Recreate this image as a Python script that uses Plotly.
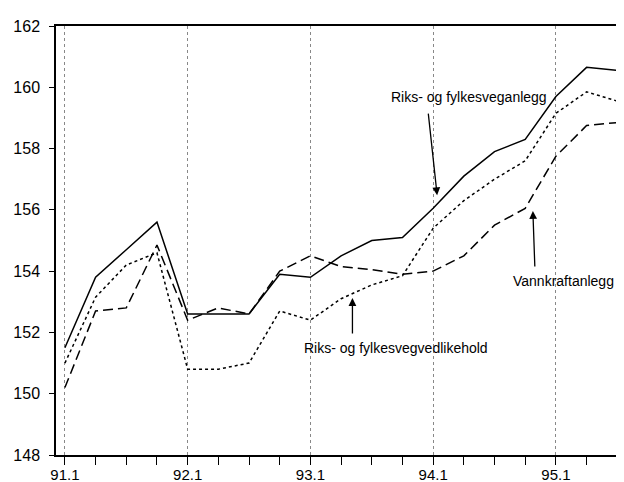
import plotly.graph_objects as go

quarters = ["91.1", "91.2", "91.3", "91.4", "92.1", "92.2", "92.3", "92.4",
            "93.1", "93.2", "93.3", "93.4", "94.1", "94.2", "94.3", "94.4",
            "95.1", "95.2", "95.3"]
veganlegg = [151.5, 153.8, 154.7, 155.6, 152.6, 152.6, 152.6, 153.9,
             153.8, 154.5, 155.0, 155.1, 156.05, 157.1, 157.9, 158.3,
             159.7, 160.65, 160.55]
vedlikehold = [151.0, 153.15, 154.2, 154.6, 150.8, 150.8, 151.0, 152.7,
               152.4, 153.1, 153.55, 153.85, 155.4, 156.3, 157.0, 157.6,
               159.15, 159.85, 159.55]
vannkraft = [150.2, 152.7, 152.8, 154.85, 152.4, 152.8, 152.6, 154.0,
             154.5, 154.15, 154.05, 153.9, 154.0, 154.5, 155.5, 156.05,
             157.75, 158.75, 158.85]
year_ticks = ["91.1", "92.1", "93.1", "94.1", "95.1"]

xi = list(range(len(quarters)))
tickvals = [quarters.index(t) for t in year_ticks]

FONT = "Liberation Sans Narrow, Arial Narrow, Liberation Sans, Arial, sans-serif"

fig = go.Figure()
fig.add_trace(go.Scatter(x=xi, y=veganlegg, mode="lines",
                         line=dict(color="black", width=1.5)))
fig.add_trace(go.Scatter(x=xi, y=vedlikehold, mode="lines",
                         line=dict(color="black", width=1.5, dash="3px,3px")))
fig.add_trace(go.Scatter(x=xi, y=vannkraft, mode="lines",
                         line=dict(color="black", width=1.5, dash="10px,5px")))

ann_font = dict(family=FONT, size=14, color="black")
annotations = [
    dict(x=13.16, y=159.68, text="Riks- og fylkesveganlegg", showarrow=False, font=ann_font),
    dict(x=12.13, y=156.48, ax=-9, ay=-83, text="", showarrow=True,
         arrowhead=2, arrowsize=1.2, arrowwidth=1.3, arrowcolor="black"),
    dict(x=16.25, y=153.68, text="Vannkraftanlegg", showarrow=False, font=ann_font),
    dict(x=15.25, y=155.96, ax=2, ay=57, text="", showarrow=True,
         arrowhead=2, arrowsize=1.2, arrowwidth=1.3, arrowcolor="black"),
    dict(x=10.79, y=151.49, text="Riks- og fylkesvegvedlikehold", showarrow=False, font=ann_font),
    dict(x=9.37, y=153.12, ax=0, ay=37, text="", showarrow=True,
         arrowhead=2, arrowsize=1.2, arrowwidth=1.3, arrowcolor="black"),
]

fig.update_layout(
    width=624, height=482,
    margin=dict(l=48, r=0, t=18, b=35),
    paper_bgcolor="white", plot_bgcolor="white",
    showlegend=False,
    font=dict(family=FONT, size=16, color="black"),
    annotations=annotations,
)
fig.update_xaxes(
    range=[-0.29, 18.48],
    tickmode="array", tickvals=tickvals, ticktext=year_ticks,
    ticks="outside", ticklen=5, tickcolor="black", tickwidth=1,
    showline=True, linecolor="black", linewidth=1.5, mirror=True,
    showgrid=True, gridcolor="#888", griddash="dot", gridwidth=1,
    zeroline=False,
    minor=dict(dtick=1, tick0=0, ticks="outside", ticklen=8, tickcolor="black",
               showgrid=False),
    tickfont=dict(family=FONT, size=15),
)
fig.update_yaxes(
    range=[148, 162], dtick=2, tick0=148,
    ticks="outside", ticklen=5, tickcolor="black",
    showline=True, linecolor="black", linewidth=1.5, mirror=False,
    showgrid=False, zeroline=False, ticklabelstandoff=6,
    tickfont=dict(family=FONT, size=16),
)

fig.write_html("out.html")
